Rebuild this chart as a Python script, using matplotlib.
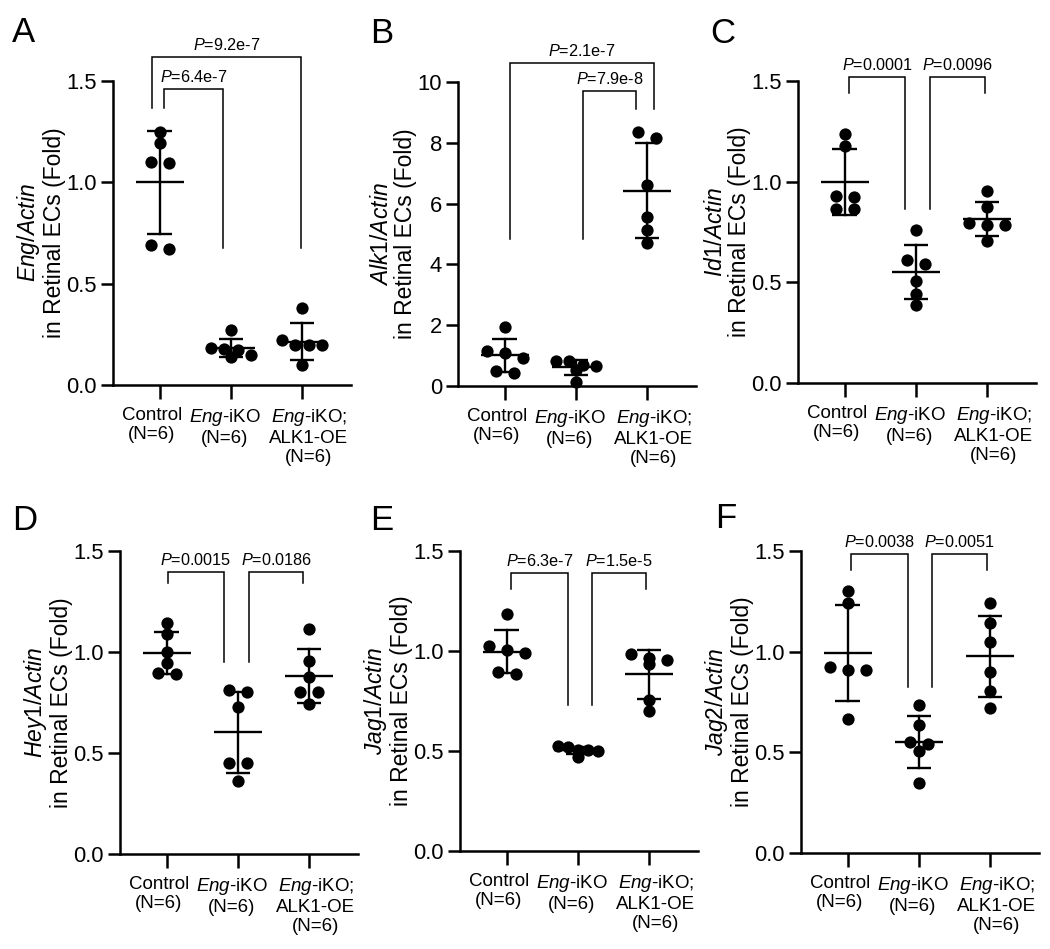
import numpy as np
import matplotlib
matplotlib.use("Agg")
import matplotlib.pyplot as plt
from matplotlib import transforms

plt.rcParams['font.family'] = ['Liberation Sans', 'DejaVu Sans']
plt.rcParams['mathtext.fontset'] = 'custom'
plt.rcParams['mathtext.it'] = 'Liberation Sans:italic'
plt.rcParams['mathtext.rm'] = 'Liberation Sans'
plt.rcParams['mathtext.bf'] = 'Liberation Sans:bold'

# ---------------- data ----------------
categories = ["Control\n(N=6)",
              r"$\mathit{Eng}$-iKO" + "\n(N=6)",
              r"$\mathit{Eng}$-iKO;" + "\nALK1-OE\n(N=6)"]
panel_letters = ["A", "B", "C", "D", "E", "F"]
genes = ["Eng", "Alk1", "Id1", "Hey1", "Jag1", "Jag2"]

eng_ctrl = [1.25, 1.195, 1.095, 1.10, 0.67, 0.69]
eng_iko = [0.27, 0.18, 0.185, 0.175, 0.14, 0.15]
eng_alk = [0.38, 0.22, 0.195, 0.195, 0.195, 0.10]

alk1_ctrl = [1.95, 1.16, 1.10, 0.91, 0.44, 0.49]
alk1_iko = [0.82, 0.82, 0.69, 0.66, 0.53, 0.14]
alk1_alk = [8.36, 8.17, 6.60, 5.56, 5.13, 4.69]

id1_ctrl = [1.235, 1.175, 0.925, 0.93, 0.865, 0.865]
id1_iko = [0.762, 0.613, 0.593, 0.506, 0.444, 0.386]
id1_alk = [0.953, 0.872, 0.796, 0.784, 0.784, 0.706]

hey1_ctrl = [1.145, 1.089, 1.002, 0.944, 0.891, 0.894]
hey1_iko = [0.804, 0.812, 0.729, 0.452, 0.452, 0.363]
hey1_alk = [1.112, 0.957, 0.878, 0.804, 0.804, 0.743]

jag1_ctrl = [1.183, 1.025, 1.003, 0.99, 0.883, 0.895]
jag1_iko = [0.503, 0.523, 0.503, 0.498, 0.52, 0.47]
jag1_alk = [0.957, 0.967, 0.987, 0.937, 0.757, 0.70]

jag2_ctrl = [1.303, 1.243, 0.925, 0.908, 0.908, 0.668]
jag2_iko = [0.734, 0.635, 0.552, 0.540, 0.506, 0.350]
jag2_alk = [1.243, 1.140, 1.049, 0.900, 0.806, 0.721]

pvals_A = ["6.4e-7", "9.2e-7"]
pvals_B = ["2.1e-7", "7.9e-8"]
pvals_C = ["0.0001", "0.0096"]
pvals_D = ["0.0015", "0.0186"]
pvals_E = ["6.3e-7", "1.5e-5"]
pvals_F = ["0.0038", "0.0051"]

yticks_fold = [0.0, 0.5, 1.0, 1.5]
yticks_alk1 = [0, 2, 4, 6, 8, 10]

panels = [
    (eng_ctrl, eng_iko, eng_alk),
    (alk1_ctrl, alk1_iko, alk1_alk),
    (id1_ctrl, id1_iko, id1_alk),
    (hey1_ctrl, hey1_iko, hey1_alk),
    (jag1_ctrl, jag1_iko, jag1_alk),
    (jag2_ctrl, jag2_iko, jag2_alk),
]
pvals = [pvals_A, pvals_B, pvals_C, pvals_D, pvals_E, pvals_F]
yticks_all = [yticks_fold, yticks_alk1, yticks_fold, yticks_fold, yticks_fold, yticks_fold]

# ---------------- layout (pixels) ----------------
W, H = 1050, 949
ax_px = [(113, 81, 385), (458, 82, 386), (798, 81, 383),
         (120, 551, 854), (460, 551, 851), (801, 551, 853)]
ax_w = 238
letter_px = [(12, 42), (370, 43), (710, 43), (12, 530), (370, 530), (715, 528)]
label_shift_px = [-8, -6, 7]
# brackets: (i, j, dx_left, dx_right, y_left, y_right, y_top)
brackets = [
    [(0, 1, 0.06, -0.11, 1.365, 0.674, 1.46), (0, 2, -0.11, -0.01, 1.365, 0.674, 1.617)],
    [(0, 2, 0.07, 0.10, 4.85, 9.12, 10.63), (1, 2, 0.10, -0.15, 4.85, 9.12, 9.70)],
    [(0, 1, 0.06, -0.15, 1.439, 0.862, 1.518), (1, 2, 0.20, -0.03, 0.862, 1.439, 1.518)],
    [(0, 1, 0.01, -0.20, 1.34, 0.952, 1.398), (1, 2, 0.16, -0.08, 0.952, 1.34, 1.398)],
    [(0, 1, 0.06, -0.14, 1.312, 0.728, 1.39), (1, 2, 0.20, -0.04, 0.728, 1.312, 1.39)],
    [(0, 1, 0.04, -0.15, 1.406, 0.825, 1.485), (1, 2, 0.19, -0.04, 0.825, 1.406, 1.485)],
]
XLIM = (-0.66, 2.69)


def swarm_offsets(ax, x0, vals, diam=11.0, max_sp=18.0, max_w=40.0):
    vals = np.asarray(vals, float)
    ypx = np.array([ax.transData.transform((x0, v))[1] for v in vals])
    xpx_per_unit = ax.transData.transform((1, 0))[0] - ax.transData.transform((0, 0))[0]
    order = np.argsort(-vals, kind="stable")
    rows = []
    cur = [order[0]]
    ref = ypx[order[0]]
    for idx in order[1:]:
        if abs(ypx[idx] - ref) < 0.75 * diam:
            cur.append(idx)
        else:
            rows.append(cur)
            cur = [idx]
            ref = ypx[idx]
    rows.append(cur)
    off = np.zeros(len(vals))
    for r in rows:
        k = len(r)
        if k > 1:
            sp = min(max_sp, max_w / (k - 1))
            for i, idx in enumerate(r):
                off[idx] = (i - (k - 1) / 2) * sp
    return off / xpx_per_unit


fig = plt.figure(figsize=(W / 100, H / 100), dpi=100)

for p in range(6):
    l, t, b = ax_px[p]
    ax = fig.add_axes([l / W, 1 - b / H, ax_w / W, (b - t) / H])
    yt = yticks_all[p]
    ax.set_xlim(*XLIM)
    ax.set_ylim(0, yt[-1])
    for s in ["top", "right"]:
        ax.spines[s].set_visible(False)
    for s in ["left", "bottom"]:
        ax.spines[s].set_linewidth(1.8)
    ax.set_yticks(yt)
    if p == 1:
        ax.set_yticklabels([f"{v:d}" for v in yt])
    else:
        ax.set_yticklabels([f"{v:.1f}" for v in yt])
    ax.set_xticks([0, 1, 2])
    ax.set_xticklabels([""] * 3)
    blend = transforms.blended_transform_factory(ax.transData, ax.transAxes)
    for g, (lab, sh) in enumerate(zip(categories, label_shift_px)):
        tr = blend + transforms.ScaledTranslation(sh / 100, -22 / 100, fig.dpi_scale_trans)
        ax.text(g, 0, lab, transform=tr, ha="center", va="top", fontsize=13.5,
                linespacing=1.15, multialignment="center")
    ax.tick_params(axis="x", length=10, width=1.8, pad=5)
    ax.tick_params(axis="y", length=8.6, width=1.8, pad=3, labelsize=15.8)
    ax.set_ylabel(r"$\mathit{" + genes[p] + "/Actin}$" + "\nin Retinal ECs (Fold)",
                  fontsize=16.5, labelpad=0, linespacing=1.1)

    for g, vals in enumerate(panels[p]):
        vals = np.asarray(vals, float)
        off = swarm_offsets(ax, g, vals)
        ax.scatter(g + off, vals, s=78, color="black", zorder=3, clip_on=False,
                   linewidths=0)
        m = vals.mean()
        sd = vals.std(ddof=1)
        ax.plot([g - 0.34, g + 0.34], [m, m], color="black", lw=1.7, zorder=4,
                solid_capstyle="butt")
        ax.plot([g, g], [m - sd, m + sd], color="black", lw=1.7, zorder=4)
        for yy in (m - sd, m + sd):
            ax.plot([g - 0.175, g + 0.175], [yy, yy], color="black", lw=1.7,
                    zorder=4, solid_capstyle="butt")

    for (i, j, dl, dr, yl, yr, ytop), ptxt in zip(brackets[p], pvals[p]):
        x1, x2 = i + dl, j + dr
        ax.plot([x1, x1, x2, x2], [yl, ytop, ytop, yr], color="black", lw=1.1,
                clip_on=False, solid_joinstyle="miter")
        ax.annotate(r"$\mathit{P}$=" + ptxt, xy=((x1 + x2) / 2, ytop),
                    xytext=(0, 5), textcoords="offset points",
                    ha="center", va="baseline", fontsize=11.7, annotation_clip=False)

    lx, ly = letter_px[p]
    fig.text(lx / W, 1 - ly / H, panel_letters[p], fontsize=25,
             ha="left", va="baseline")

fig.savefig("out.png", dpi=100)
